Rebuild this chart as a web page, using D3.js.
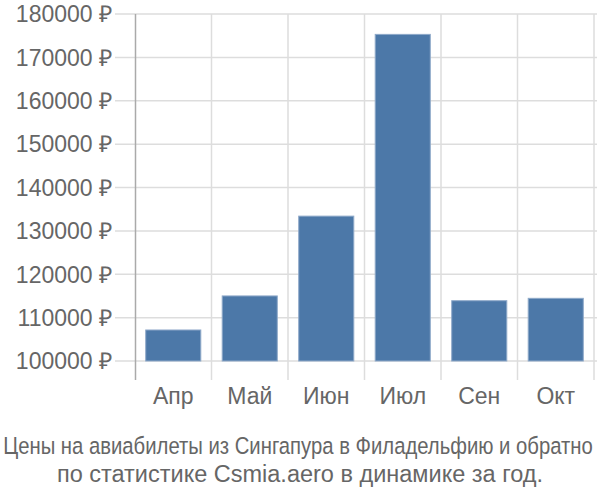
<!DOCTYPE html>
<html><head><meta charset="utf-8">
<script src="https://cdn.jsdelivr.net/npm/d3@7"></script>
<style>body{margin:0;background:#fff}svg{display:block}</style>
</head><body>
<svg id="c" width="600" height="500"></svg>
<script>
const months = ["Апр","Май","Июн","Июл","Сен","Окт"];
const prices = [107150,115000,133400,175300,113900,114450];
const yTicks = [100000,110000,120000,130000,140000,150000,160000,170000,180000];
const titleLines = ["Цены на авиабилеты из Сингапура в Филадельфию и обратно","по статистике Csmia.aero в динамике за год."];

const svg = d3.select("#c");
const x = d3.scaleBand().domain(months).range([135,594]).paddingInner(0.28).paddingOuter(0.14);
const y = d3.scaleLinear().domain([100000,180000]).range([361,14]);
const font = "'Liberation Sans', Arial, sans-serif";

// horizontal grid
svg.append("g").selectAll("line").data(yTicks).join("line")
  .attr("x1",115).attr("x2",597).attr("y1",d=>y(d)).attr("y2",d=>y(d))
  .attr("stroke","#dddddd").attr("stroke-width",1.5);
// vertical grid
const bounds = months.map(m=>x(m)-x.step()*x.paddingInner()/2).concat([594]);
svg.append("g").selectAll("line").data(bounds.slice(1)).join("line")
  .attr("x1",d=>d).attr("x2",d=>d).attr("y1",14).attr("y2",380)
  .attr("stroke","#dddddd").attr("stroke-width",1.5);
// y axis line
svg.append("line").attr("x1",135.5).attr("x2",135.5).attr("y1",14).attr("y2",380)
  .attr("stroke","#aaaaaa").attr("stroke-width",1.5);

// y labels
svg.append("g").selectAll("text").data(yTicks).join("text")
  .attr("x",112).attr("y",d=>y(d)).attr("dy","0.36em").attr("text-anchor","end")
  .attr("font-family",font).attr("font-size",23).attr("fill","#666")
  .text(d=>d+" ₽");

// bars
svg.append("g").selectAll("rect").data(prices).join("rect")
  .attr("x",(d,i)=>x(months[i])).attr("width",x.bandwidth())
  .attr("y",d=>y(d)).attr("height",d=>y(100000)-y(d))
  .attr("fill","#4c78a8").attr("stroke","#8fa9c9").attr("stroke-width",1);

// x labels
svg.append("g").selectAll("text").data(months).join("text")
  .attr("x",d=>x(d)+x.bandwidth()/2).attr("y",404).attr("text-anchor","middle")
  .attr("font-family",font).attr("font-size",23).attr("fill","#666")
  .text(d=>d);

// title
const l1 = svg.append("text").attr("text-anchor","middle")
  .attr("font-family",font).attr("font-size",23.5).attr("fill","#666")
  .text(titleLines[0]);
const w = l1.node().getComputedTextLength();
const s = Math.min(1, 590 / w);
l1.attr("transform",`translate(298,454) scale(${s},1)`);
svg.append("text").attr("x",300).attr("y",482).attr("text-anchor","middle")
  .attr("font-family",font).attr("font-size",23.5).attr("fill","#666")
  .text(titleLines[1]);
</script>
</body></html>
